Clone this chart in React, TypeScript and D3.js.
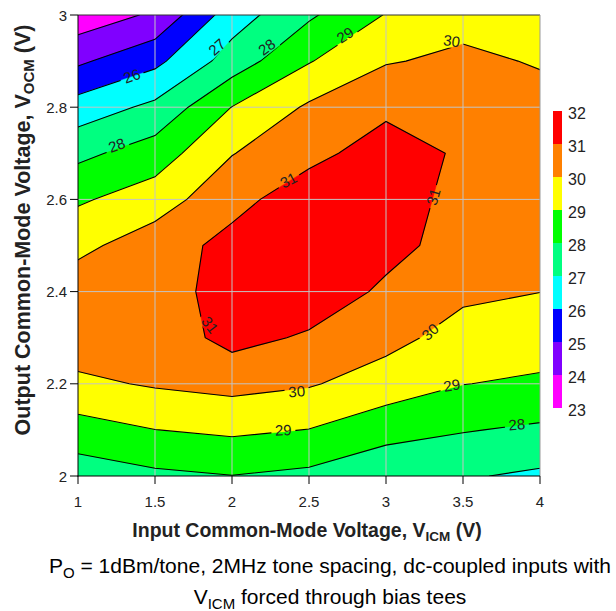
import React from "react";
import * as d3 from "d3";

// Grid sample positions
const xValues = [1, 1.5, 2, 2.5, 3, 3.5, 4];
const yValues = [2.0, 2.1, 2.2, 2.3, 2.4, 2.5, 2.6, 2.7, 2.8, 2.9, 3.0];

// Values per input common-mode column, listed from VOCM = 2.0 to 3.0
const colX10 = [27.45, 28.59, 29.8, 30.55, 30.58, 29.74, 28.87, 27.75, 26.43, 24.83, 23.38];
const colX15 = [27.8, 28.99, 30.1, 30.4, 30.55, 30.54, 29.5, 28.48, 27.23, 25.75, 24.16];
const colX20 = [27.98, 29.18, 30.31, 31.32, 31.4, 31.28, 30.71, 29.96, 29.02, 27.45, 26.52];
const colX25 = [27.77, 28.98, 30.09, 30.87, 31.63, 31.7, 31.5, 30.75, 30.14, 28.94, 27.85];
const colX30 = [27.23, 28.38, 29.54, 30.31, 30.82, 31.32, 31.5, 31.4, 30.82, 29.93, 29.05];
const colX35 = [27.09, 28.06, 29.02, 29.61, 30.2, 30.59, 30.67, 30.88, 30.6, 30.2, 29.66];
const colX40 = [26.83, 27.84, 28.85, 29.46, 30.01, 30.35, 30.5, 30.5, 30.35, 29.92, 29.5];
const columns = [colX10, colX15, colX20, colX25, colX30, colX35, colX40];

const levels = [23, 24, 25, 26, 27, 28, 29, 30, 31, 32];
const bandColors = ["#ff00ff", "#8000ff", "#0000ff", "#00ffff", "#00ff80", "#00ff00", "#ffff00", "#ff8000", "#ff0000"];

const xTicks = [1, 1.5, 2, 2.5, 3, 3.5, 4];
const yTicks = [2, 2.2, 2.4, 2.6, 2.8, 3];

// Contour labels: level, position (data units), rotation (deg)
const labelLevels = [26, 27, 28, 29, 30, 28, 31, 31, 31, 30, 30, 29, 29, 28];
const labelX = [1.349, 1.901, 2.225, 2.734, 3.427, 1.251, 2.366, 3.307, 1.857, 3.286, 2.42, 2.333, 3.427, 3.849];
const labelY = [2.868, 2.931, 2.931, 2.957, 2.944, 2.718, 2.642, 2.606, 2.328, 2.313, 2.184, 2.1, 2.197, 2.112];
const labelAngle = [-20, -42, -37, -33, 8, -20, -27, -74, 52, -42, -5, -3, -10, -5];

export default function App() {
  const W = 616;
  const H = 611;
  const left = 78, right = 540, top = 15, bottom = 476;
  const x = d3.scaleLinear().domain([1, 4]).range([left, right]);
  const y = d3.scaleLinear().domain([2, 3]).range([bottom, top]);

  const nx = xValues.length;
  const ny = yValues.length;
  const grid: number[] = new Array(nx * ny);
  for (let j = 0; j < ny; j++) for (let i = 0; i < nx; i++) grid[j * nx + i] = columns[i][j];
  const stepX = xValues[1] - xValues[0];
  const stepY = yValues[1] - yValues[0];
  const proj = d3.geoTransform({
    point(px: number, py: number) {
      (this as any).stream.point(x(xValues[0] + (px - 0.5) * stepX), y(yValues[0] + (py - 0.5) * stepY));
    },
  });
  const path = d3.geoPath(proj);
  const contours = d3.contours().size([nx, ny]).thresholds(levels.slice(0, -1))(grid);

  const cb = d3.scaleLinear().domain([23, 32]).range([408, 111]);

  const font = "Arial, 'Liberation Sans', Helvetica, sans-serif";
  const textColor = "#222";

  return (
    <svg width={W} height={H} style={{ position: "absolute", left: 0, top: 0, background: "#fff" }} fontFamily={font}>
      <defs>
        <clipPath id="plotClip">
          <rect x={left} y={top} width={right - left} height={bottom - top} />
        </clipPath>
        <mask id="labelMask" maskUnits="userSpaceOnUse" x={0} y={0} width={W} height={H}>
          <rect x={0} y={0} width={W} height={H} fill="#fff" />
          {labelLevels.map((lv, k) => (
            <rect
              key={k}
              x={-12}
              y={-7}
              width={24}
              height={14}
              fill="#000"
              transform={`translate(${x(labelX[k])},${y(labelY[k])}) rotate(${labelAngle[k]})`}
            />
          ))}
        </mask>
      </defs>

      {/* filled bands */}
      <g clipPath="url(#plotClip)">
        {contours.map((c, k) => (
          <path key={k} d={path(c as any) || ""} fill={bandColors[k]} stroke={bandColors[k]} strokeWidth={0.5} />
        ))}
      </g>

      {/* grid lines */}
      <g stroke="#c4c4c4" strokeWidth={1}>
        {xTicks.slice(1, -1).map((t) => (
          <line key={t} x1={x(t)} x2={x(t)} y1={top} y2={bottom} />
        ))}
        {yTicks.slice(1, -1).map((t) => (
          <line key={t} x1={left} x2={right} y1={y(t)} y2={y(t)} />
        ))}
      </g>

      {/* contour lines */}
      <g clipPath="url(#plotClip)">
        <g mask="url(#labelMask)">
          {contours.slice(1).map((c, k) => (
            <path key={k} d={path(c as any) || ""} fill="none" stroke="#000" strokeWidth={1.1} />
          ))}
        </g>
      </g>

      {/* contour labels */}
      {labelLevels.map((lv, k) => (
        <text
          key={k}
          transform={`translate(${x(labelX[k])},${y(labelY[k])}) rotate(${labelAngle[k]})`}
          textAnchor="middle"
          dominantBaseline="central"
          fontSize={15}
          fill={textColor}
        >
          {lv}
        </text>
      ))}

      {/* frame */}
      <line x1={left} x2={right} y1={top} y2={top} stroke="#333" strokeWidth={1} />
      <line x1={right} x2={right} y1={top} y2={bottom} stroke="#999" strokeWidth={1} />
      <line x1={left} x2={left} y1={top} y2={bottom + 0.5} stroke="#000" strokeWidth={1} />
      <line x1={left - 0.5} x2={right} y1={bottom} y2={bottom} stroke="#000" strokeWidth={1} />

      {/* y axis ticks */}
      {yTicks.map((t) => (
        <g key={t}>
          <line x1={left - 8} x2={left} y1={y(t)} y2={y(t)} stroke="#000" />
          <text x={left - 11} y={y(t)} textAnchor="end" dominantBaseline="central" fontSize={15} fill={textColor}>
            {t}
          </text>
        </g>
      ))}
      {/* x axis ticks */}
      {xTicks.map((t) => (
        <g key={t}>
          <line x1={x(t)} x2={x(t)} y1={bottom} y2={bottom + 8} stroke="#000" />
          <text x={x(t)} y={507} textAnchor="middle" fontSize={15} fill={textColor}>
            {t}
          </text>
        </g>
      ))}

      {/* axis titles */}
      <text x={307} y={537} textAnchor="middle" fontSize={19.5} fontWeight="bold" fill={textColor}>
        Input Common-Mode Voltage, V<tspan fontSize={13.5} dy={4}>ICM</tspan>
        <tspan dy={-4}> (V)</tspan>
      </text>
      <text
        transform={`translate(30,230) rotate(-90)`}
        textAnchor="middle"
        fontSize={21.5}
        fontWeight="bold"
        fill={textColor}
      >
        Output Common-Mode Voltage, V<tspan fontSize={15} dy={4}>OCM</tspan>
        <tspan dy={-4}> (V)</tspan>
      </text>

      {/* caption */}
      <text x={330} y={573} textAnchor="middle" fontSize={21} fill="#000">
        P<tspan fontSize={15} dy={5}>O</tspan>
        <tspan dy={-5}> = 1dBm/tone, 2MHz tone spacing, dc-coupled inputs with</tspan>
      </text>
      <text x={330} y={604} textAnchor="middle" fontSize={21} fill="#000">
        V<tspan fontSize={15} dy={5}>ICM</tspan>
        <tspan dy={-5}> forced through bias tees</tspan>
      </text>

      {/* color bar */}
      {bandColors.map((c, k) => (
        <rect key={k} x={553} y={cb(levels[k + 1])} width={9} height={cb(levels[k]) - cb(levels[k + 1])} fill={c} />
      ))}
      {levels.map((lv) => (
        <text key={lv} x={568} y={cb(lv) + 2} dominantBaseline="central" fontSize={16} fill={textColor}>
          {lv}
        </text>
      ))}
    </svg>
  );
}
